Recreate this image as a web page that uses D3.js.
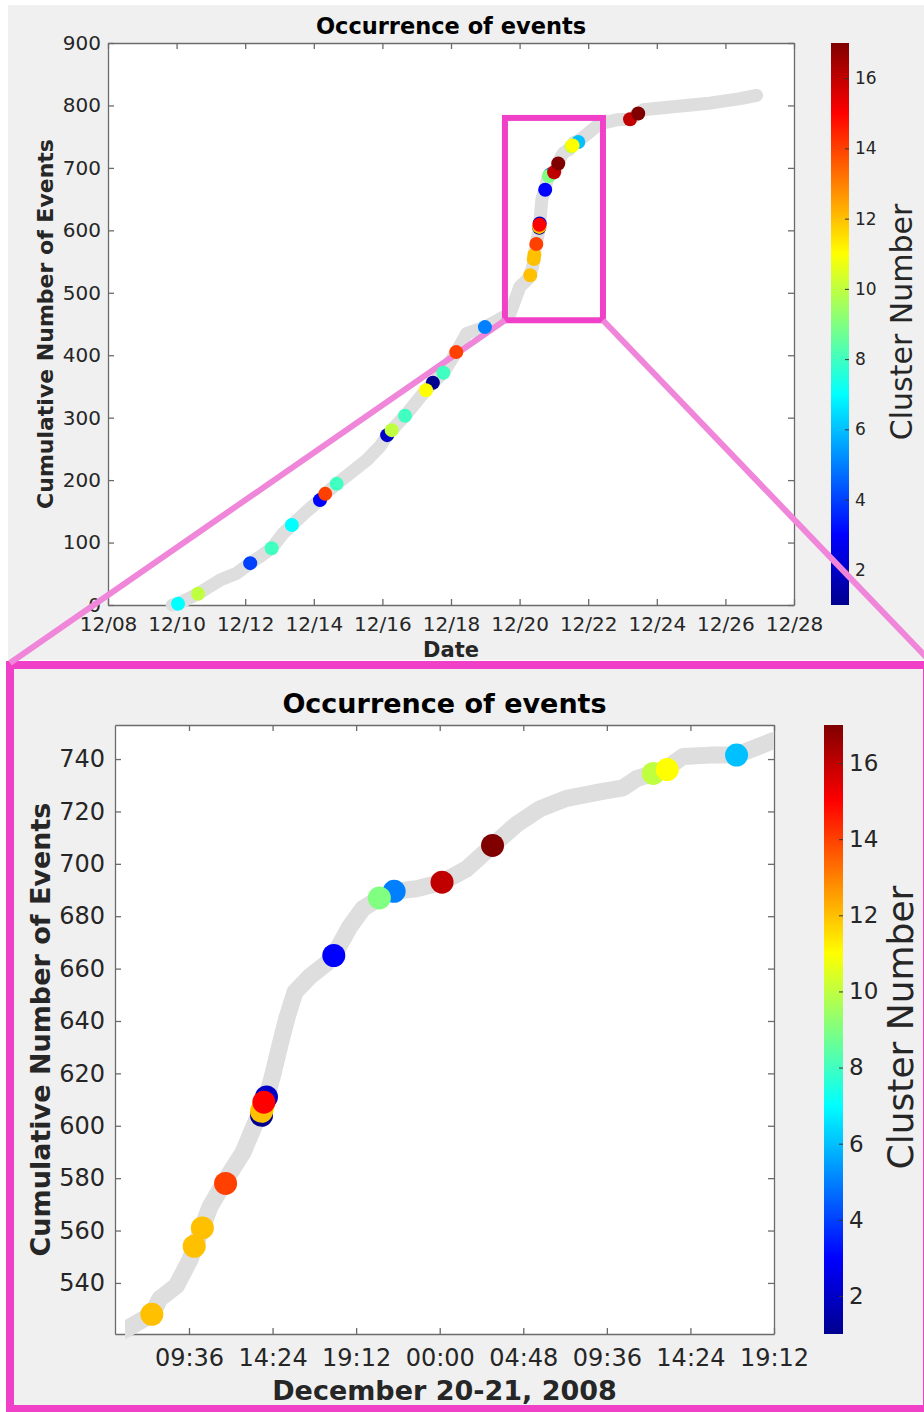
<!DOCTYPE html>
<html>
<head>
<meta charset="utf-8">
<script src="https://cdn.jsdelivr.net/npm/d3@7"></script>
<style>
body { margin: 0; background: #fff; }
text { font-family: "DejaVu Sans", sans-serif; }
</style>
</head>
<body>
<script>
// cumulative event curve (grey track)
var trackTime = [
  "2008-12-09T21:00","2008-12-10T01:00","2008-12-10T15:00","2008-12-11T06:30","2008-12-11T18:00",
  "2008-12-12T03:30","2008-12-12T10:00","2008-12-12T18:30","2008-12-13T02:40","2008-12-13T08:40",
  "2008-12-13T19:00","2008-12-14T04:20","2008-12-14T08:00","2008-12-14T16:00","2008-12-15T01:30",
  "2008-12-15T13:00","2008-12-15T22:20","2008-12-16T03:20","2008-12-16T06:30","2008-12-16T15:50",
  "2008-12-17T00:00","2008-12-17T06:30","2008-12-17T11:20","2008-12-17T18:40","2008-12-18T03:40",
  "2008-12-18T11:00","2008-12-18T23:45","2008-12-19T17:20","2008-12-20T00:15","2008-12-20T05:54",
  "2008-12-20T07:28","2008-12-20T07:56","2008-12-20T08:53","2008-12-20T09:40","2008-12-20T10:14",
  "2008-12-20T10:48","2008-12-20T11:46","2008-12-20T12:43","2008-12-20T13:17","2008-12-20T14:04",
  "2008-12-20T14:26","2008-12-20T14:50","2008-12-20T15:13","2008-12-20T15:41","2008-12-20T16:33",
  "2008-12-20T17:30","2008-12-20T17:55","2008-12-20T18:25","2008-12-20T18:50","2008-12-20T19:36",
  "2008-12-20T20:34","2008-12-20T21:23","2008-12-20T22:40","2008-12-21T00:08","2008-12-21T01:32",
  "2008-12-21T03:02","2008-12-21T04:24","2008-12-21T05:45","2008-12-21T07:17","2008-12-21T09:12",
  "2008-12-21T10:32","2008-12-21T11:18","2008-12-21T12:16","2008-12-21T13:02","2008-12-21T13:59",
  "2008-12-21T15:31","2008-12-21T17:03","2008-12-21T18:12","2008-12-21T19:09","2008-12-21T22:00",
  "2008-12-22T08:10","2008-12-22T20:00","2008-12-23T05:17","2008-12-23T11:00","2008-12-23T14:24",
  "2008-12-24T11:30","2008-12-25T10:50","2008-12-26T10:20","2008-12-26T21:50"];
var trackCount = [0,2,18,40,51, 67,77,91,115,128, 150,168,178,194,211, 232,254,272,280,303,
  326,344,356,372,405, 435,445,467,510,522, 528,534,539,549,559, 569,580,590,599,611,
  620,631,641,651,657, 662,665,671,676,683, 687,689.5,690.5,693,698, 707,715,721,725,727.5,
  729,732.5,734.5,736.5,741, 741.5,741.5,744.5,747,752, 771,777,778,787,793, 798,803,811,816];

// clustered events (coloured dots)
var dotTime = [
  "2008-12-10T01:00","2008-12-10T15:00","2008-12-12T03:30","2008-12-12T18:30","2008-12-13T08:40",
  "2008-12-14T04:20","2008-12-14T08:00","2008-12-14T16:00","2008-12-16T03:20","2008-12-16T06:30",
  "2008-12-16T15:50","2008-12-17T06:30","2008-12-17T11:20","2008-12-17T18:40","2008-12-18T03:40",
  "2008-12-18T23:45","2008-12-20T07:28","2008-12-20T09:54","2008-12-20T10:22","2008-12-20T11:42",
  "2008-12-20T13:46","2008-12-20T13:46","2008-12-20T13:50","2008-12-20T13:54","2008-12-20T14:03",
  "2008-12-20T17:55","2008-12-20T20:32","2008-12-20T21:23","2008-12-21T00:08","2008-12-21T03:02",
  "2008-12-21T12:16","2008-12-21T13:04","2008-12-21T17:03","2008-12-23T05:17","2008-12-23T11:00"];
var dotCount = [2,18,67,91,128, 168,178,194,272,280, 303,344,356,372,405, 445,528,554,561,578,
  604,605.5,607,609,611, 665,687,689.5,693,707, 734.5,736,741.5,778,787];
var dotCluster = [7,10,4,8,7, 3,14,8,2,10, 8,11,1,8,14, 5,12,12,12,14, 1,12,11,15,2, 3,9,5,16,17, 10,11,6,16,17];

var topDateTicks = ["2008-12-08T00:00","2008-12-10T00:00","2008-12-12T00:00","2008-12-14T00:00",
  "2008-12-16T00:00","2008-12-18T00:00","2008-12-20T00:00","2008-12-22T00:00","2008-12-24T00:00",
  "2008-12-26T00:00","2008-12-28T00:00"];
var zoomTimeTicks = ["2008-12-20T09:36","2008-12-20T14:24","2008-12-20T19:12","2008-12-21T00:00",
  "2008-12-21T04:48","2008-12-21T09:36","2008-12-21T14:24","2008-12-21T19:12"];
var topCountTicks = [0,100,200,300,400,500,600,700,800,900];
var zoomCountTicks = [540,560,580,600,620,640,660,680,700,720,740];
var clusterTicks = [2,4,6,8,10,12,14,16];

// area of the upper plot that is enlarged below
var zoomBoxTime = ["2008-12-19T13:45","2008-12-22T10:20"];
var zoomBoxCount = [456,780];

var parseTime = d3.utcParse("%Y-%m-%dT%H:%M");
var track = trackTime.map(function(t, i) { return {date: parseTime(t), count: trackCount[i]}; });
var dots = dotTime.map(function(t, i) {
  return {date: parseTime(t), count: dotCount[i], cluster: dotCluster[i]};
}).sort(function(a, b) { return a.cluster - b.cluster; });

var jet = d3.piecewise(d3.interpolateRgb, ["#00008f","#0000ff","#0080ff","#00ffff","#80ff80",
  "#ffff00","#ff8000","#ff0000","#800000"]);
var color = d3.scaleSequential(jet).domain([1,17]);

var svg = d3.select("body").append("svg").attr("width",924).attr("height",1412);
var defs = svg.append("defs");

// figure backgrounds
svg.append("rect").attr("x",8).attr("y",5).attr("width",916).attr("height",655).attr("fill","#f0f0f0");
svg.append("rect").attr("x",10).attr("y",665).attr("width",917).attr("height",744)
  .attr("fill","#f0f0f0").attr("stroke","#f040c8").attr("stroke-width",8);

function drawPanel(p) {
  var x = d3.scaleUtc().domain(p.xDomain.map(parseTime)).range([p.left, p.right]);
  var y = d3.scaleLinear().domain(p.yDomain).range([p.bottom, p.top]);
  var g = svg.append("g");

  g.append("rect").attr("x",p.left).attr("y",p.top)
    .attr("width",p.right-p.left).attr("height",p.bottom-p.top).attr("fill","#fff");

  var ax = g.append("g");
  ax.append("g").attr("transform","translate(0,"+p.bottom+")")
    .call(d3.axisBottom(x).tickValues(p.xTicks.map(parseTime)).tickFormat(d3.utcFormat(p.xFormat))
      .tickSizeInner(-6).tickSizeOuter(0).tickPadding(p.xPad));
  ax.append("g").attr("transform","translate(0,"+p.top+")")
    .call(d3.axisTop(x).tickValues(p.xTicks.map(parseTime)).tickFormat("")
      .tickSizeInner(-6).tickSizeOuter(0));
  ax.append("g").attr("transform","translate("+p.left+",0)")
    .call(d3.axisLeft(y).tickValues(p.yTicks).tickSizeInner(-6).tickSizeOuter(0).tickPadding(p.yPad));
  ax.append("g").attr("transform","translate("+p.right+",0)")
    .call(d3.axisRight(y).tickValues(p.yTicks).tickFormat("").tickSizeInner(-6).tickSizeOuter(0));
  ax.selectAll(".domain, .tick line").attr("stroke","#6b6b6b").attr("stroke-width",1.3);
  ax.selectAll(".tick text").attr("fill","#262626").attr("font-size",p.tickFont);

  // grey track, clipped at the plot sides
  defs.append("clipPath").attr("id","clip-"+p.id).append("rect")
    .attr("x",p.left+p.clipLeft).attr("y",p.top-30)
    .attr("width",p.right-p.left-p.clipLeft).attr("height",p.bottom-p.top+30+p.clipBottom);
  g.append("path").datum(track)
    .attr("clip-path","url(#clip-"+p.id+")")
    .attr("d", d3.line().x(function(d){return x(d.date);}).y(function(d){return y(d.count);}))
    .attr("fill","none").attr("stroke","#dedede").attr("stroke-width",p.trackWidth)
    .attr("stroke-linejoin","round").attr("stroke-linecap","round");

  // colour bar
  var cy = d3.scaleLinear().domain([1,17]).range([p.bottom, p.top]);
  var grad = defs.append("linearGradient").attr("id","grad-"+p.id)
    .attr("x1",0).attr("y1",1).attr("x2",0).attr("y2",0);
  grad.selectAll("stop").data(d3.range(0,1.0001,1/32)).enter().append("stop")
    .attr("offset",function(d){return d;})
    .attr("stop-color",function(d){return color(1+16*d);});
  g.append("rect").attr("x",p.cbX).attr("y",p.top).attr("width",p.cbW)
    .attr("height",p.bottom-p.top).attr("fill","url(#grad-"+p.id+")");
  var cb = g.append("g")
    .attr("transform","translate("+(p.cbX+p.cbW)+",0)")
    .call(d3.axisRight(cy).tickValues(clusterTicks).tickSizeInner(-4).tickSizeOuter(0).tickPadding(6));
  cb.select(".domain").remove();
  cb.selectAll(".tick line").attr("stroke","#333");
  cb.selectAll(".tick text").attr("fill","#262626").attr("font-size",p.cbFont);

  // texts
  g.append("text").attr("x",(p.left+p.right)/2).attr("y",p.titleY)
    .attr("text-anchor","middle").attr("font-weight","bold").attr("font-size",p.titleFont)
    .attr("fill","#000").text("Occurrence of events");
  g.append("text").attr("x",(p.left+p.right)/2).attr("y",p.xLabelY)
    .attr("text-anchor","middle").attr("font-weight","bold").attr("font-size",p.xLabelFont)
    .attr("fill","#262626").text(p.xLabel);
  g.append("text").attr("transform","translate("+p.yLabelX+","+(p.top+p.bottom)/2+") rotate(-90)")
    .attr("text-anchor","middle").attr("font-weight","bold").attr("font-size",p.yLabelFont)
    .attr("fill","#262626").text("Cumulative Number of Events");
  g.append("text").attr("transform","translate("+p.cbLabelX+","+((p.top+p.bottom)/2-2)+") rotate(-90)")
    .attr("text-anchor","middle").attr("font-size",p.cbLabelFont)
    .attr("fill","#262626").text("Cluster Number");

  return {x: x, y: y, p: p};
}

var topPanel = drawPanel({
  id: "top", left: 108, right: 794, top: 43, bottom: 605,
  xDomain: ["2008-12-08T00:00","2008-12-28T00:00"], yDomain: [0,900],
  xTicks: topDateTicks, xFormat: "%m/%d", yTicks: topCountTicks,
  tickFont: 20, xPad: 12, yPad: 7, clipLeft: 0, clipBottom: 10,
  trackWidth: 13, dotR: 7,
  titleY: 34, titleFont: 22.5, xLabel: "Date", xLabelY: 657, xLabelFont: 21,
  yLabelX: 53, yLabelFont: 22,
  cbX: 831, cbW: 18, cbFont: 17, cbLabelX: 912, cbLabelFont: 30
});

var zoomPanel = drawPanel({
  id: "zoom", left: 115, right: 774, top: 725, bottom: 1334,
  xDomain: ["2008-12-20T05:21","2008-12-21T19:12"], yDomain: [520.5,753],
  xTicks: zoomTimeTicks, xFormat: "%H:%M", yTicks: zoomCountTicks,
  tickFont: 24, xPad: 15, yPad: 10, clipLeft: 10, clipBottom: 6,
  trackWidth: 17, dotR: 11.5,
  titleY: 713, titleFont: 27, xLabel: "December 20-21, 2008", xLabelY: 1400, xLabelFont: 27,
  yLabelX: 50, yLabelFont: 27,
  cbX: 824, cbW: 19, cbFont: 23, cbLabelX: 913, cbLabelFont: 36
});

// zoom box and connectors
var bx0 = topPanel.x(parseTime(zoomBoxTime[0])), bx1 = topPanel.x(parseTime(zoomBoxTime[1]));
var by0 = topPanel.y(zoomBoxCount[0]), by1 = topPanel.y(zoomBoxCount[1]);
svg.append("rect").attr("x",bx0).attr("y",by1).attr("width",bx1-bx0).attr("height",by0-by1)
  .attr("fill","none").attr("stroke","#f040c8").attr("stroke-width",6);
svg.append("line").attr("x1",bx0).attr("y1",by0).attr("x2",10).attr("y2",663)
  .attr("stroke","#ef86d9").attr("stroke-width",6);
svg.append("line").attr("x1",bx1).attr("y1",by0).attr("x2",926).attr("y2",657)
  .attr("stroke","#ef86d9").attr("stroke-width",6);

// dots on top of everything
[topPanel, zoomPanel].forEach(function(panel) {
  var xd = panel.x.domain(), yd = panel.y.domain();
  svg.append("g").selectAll("circle")
    .data(dots.filter(function(d){ return d.date >= xd[0] && d.date <= xd[1] && d.count >= yd[0] && d.count <= yd[1]; }))
    .enter().append("circle")
    .attr("cx",function(d){return panel.x(d.date);})
    .attr("cy",function(d){return panel.y(d.count);})
    .attr("r",panel.p.dotR)
    .attr("fill",function(d){return color(d.cluster);});
});
</script>
</body>
</html>
